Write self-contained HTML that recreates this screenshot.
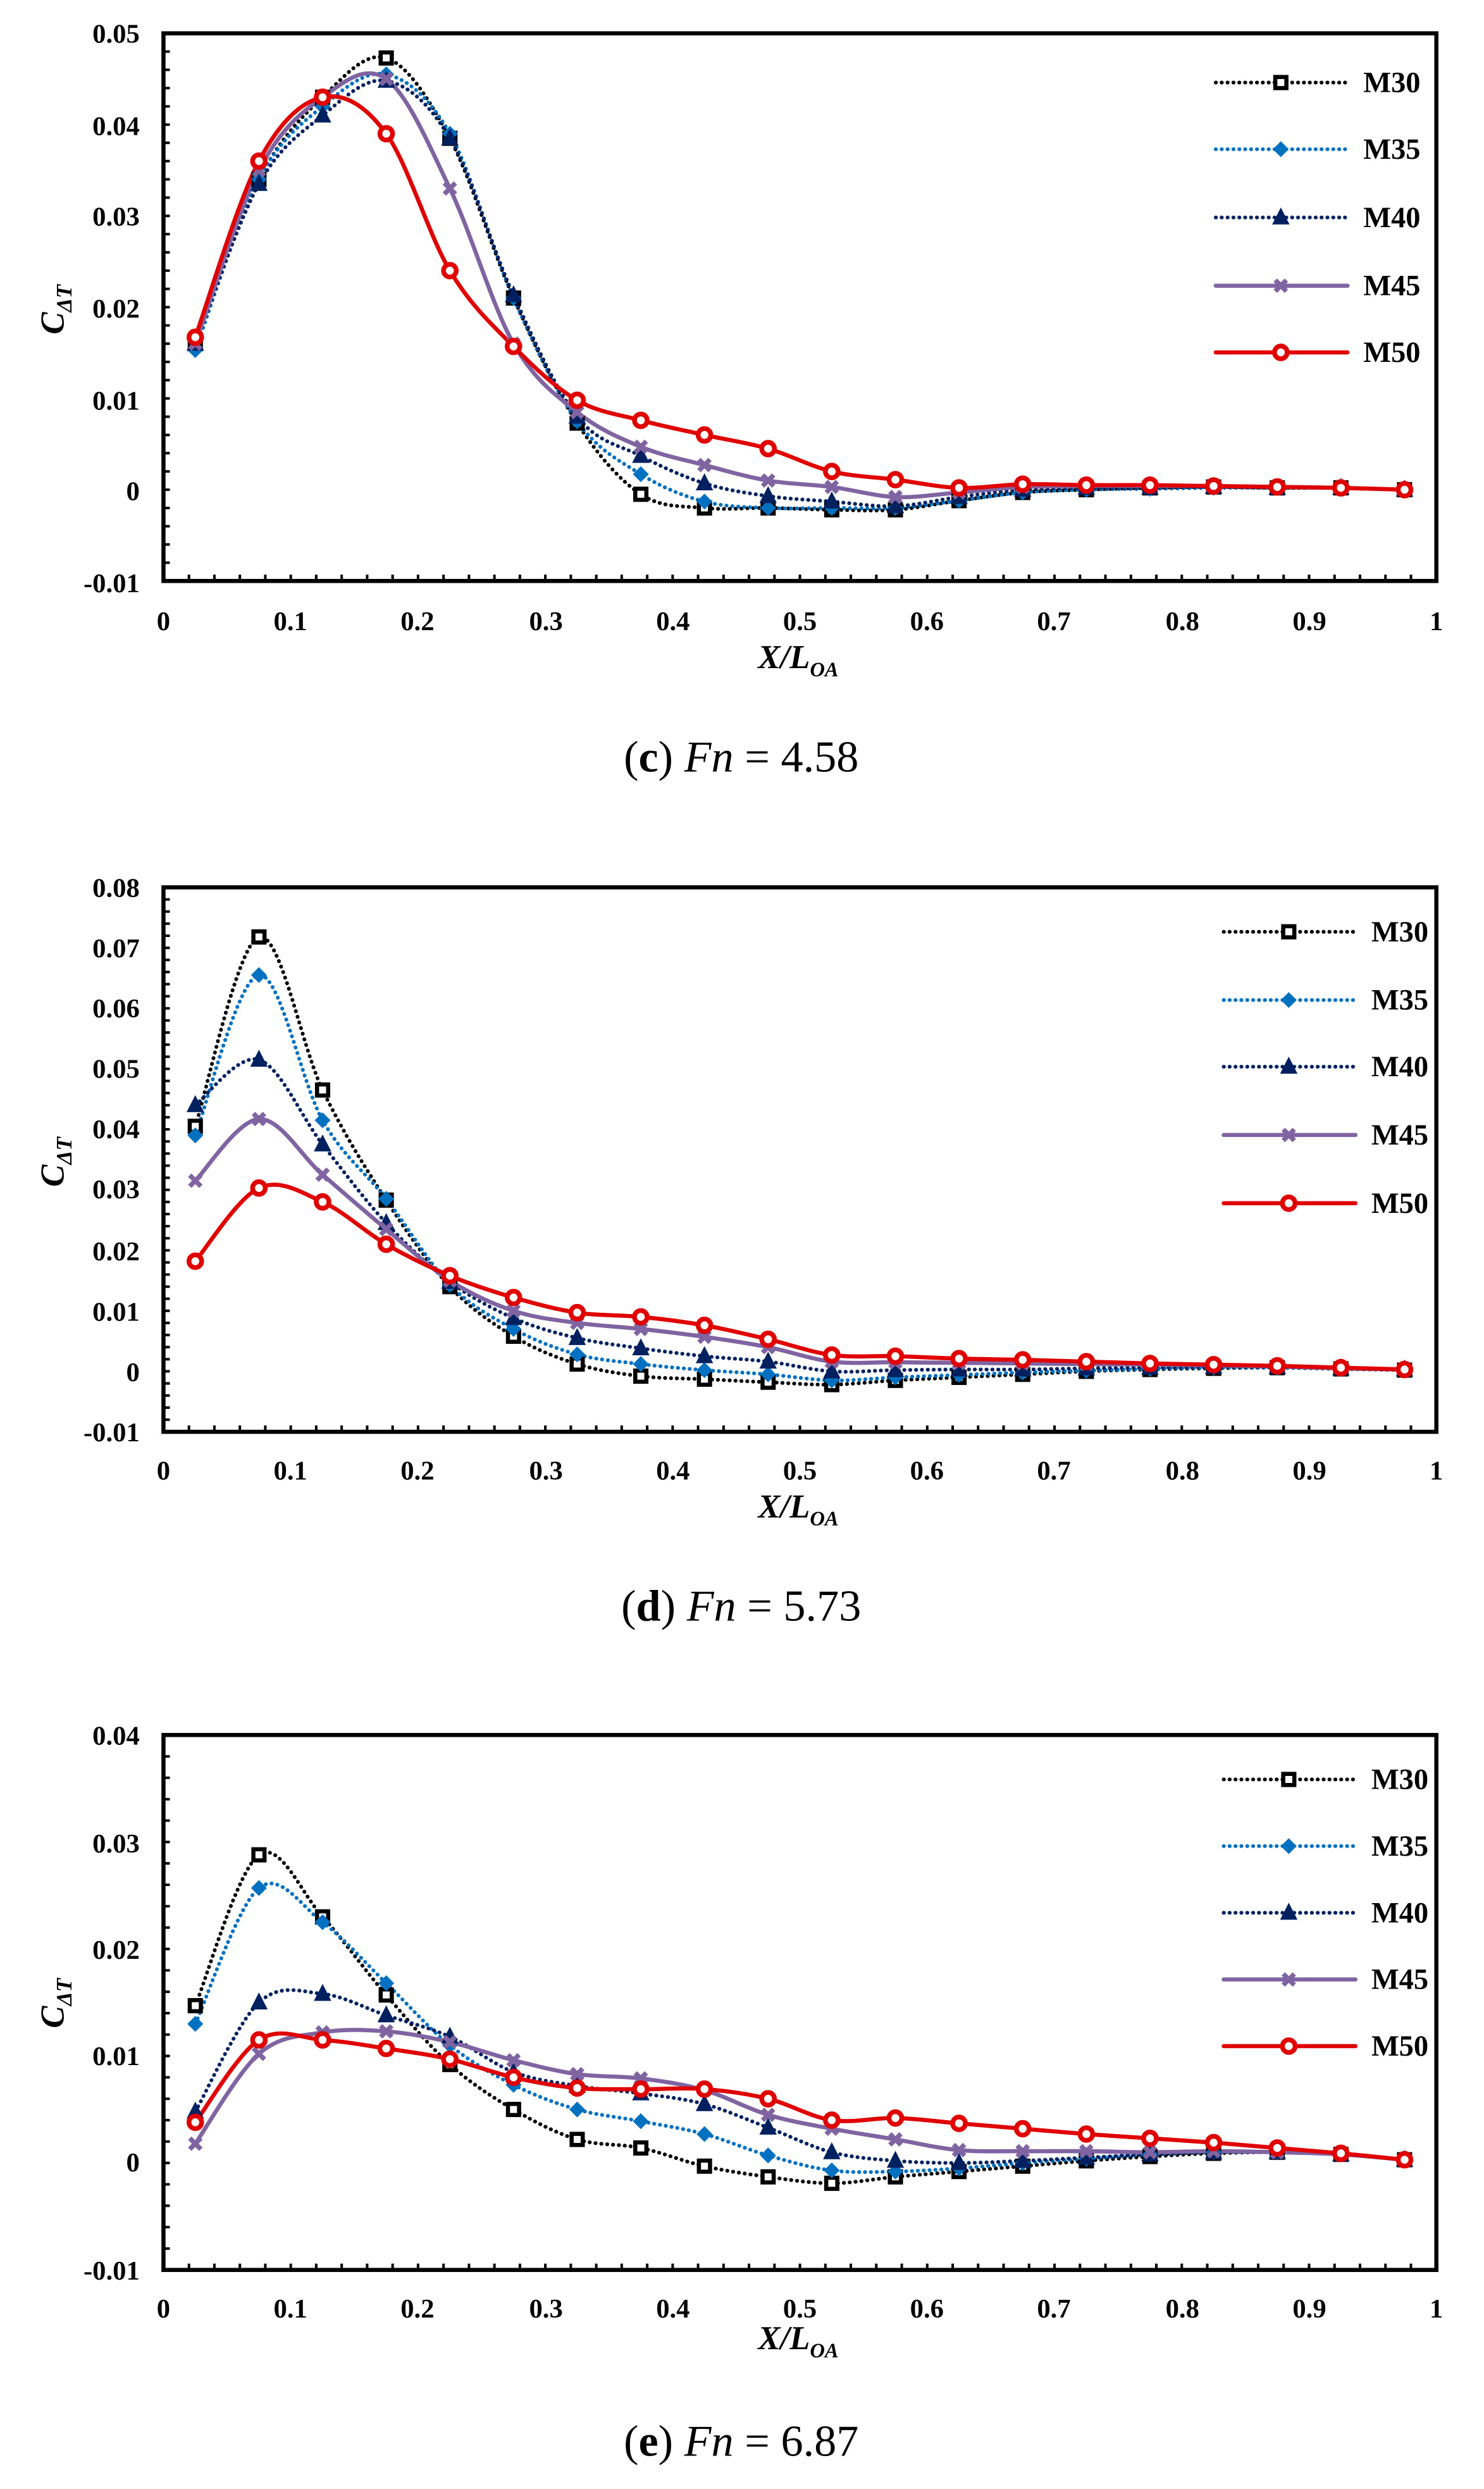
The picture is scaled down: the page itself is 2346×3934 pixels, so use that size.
<!DOCTYPE html>
<html><head><meta charset="utf-8"><style>
html,body{margin:0;padding:0;background:#fff;}
svg{display:block;}
.tk{font-family:"Liberation Serif","Times New Roman",serif;font-weight:bold;font-size:17px;fill:#000;}
.lg{font-family:"Liberation Serif","Times New Roman",serif;font-weight:bold;font-size:18.5px;fill:#000;}
.ax{font-family:"Liberation Serif","Times New Roman",serif;font-weight:bold;font-style:italic;font-size:21px;fill:#000;}
.cap{font-family:"Liberation Serif","Times New Roman",serif;font-size:28px;fill:#000;}
</style></head><body>
<svg id="s" width="2346" height="3934" viewBox="0 0 935 1568" preserveAspectRatio="none" xmlns="http://www.w3.org/2000/svg">
<rect width="935" height="1568" fill="#fff"/>
<g id="g1"></g><g id="g2"></g><g id="g3"></g>
<g class="tk" text-anchor="end">
<text x="88" y="27">0.05</text><text x="88" y="85">0.04</text><text x="88" y="142">0.03</text><text x="88" y="200">0.02</text><text x="88" y="258">0.01</text><text x="88" y="315">0</text><text x="88" y="373">-0.01</text>
</g>
<g class="tk" text-anchor="middle">
<text x="103" y="397">0</text><text x="183" y="397">0.1</text><text x="263" y="397">0.2</text><text x="344" y="397">0.3</text><text x="424" y="397">0.4</text><text x="504" y="397">0.5</text><text x="584" y="397">0.6</text><text x="664" y="397">0.7</text><text x="745" y="397">0.8</text><text x="825" y="397">0.9</text><text x="905" y="397">1</text>
</g>
<g class="lg"><text x="859" y="58">M30</text><text x="859" y="100">M35</text><text x="859" y="143">M40</text><text x="859" y="186">M45</text><text x="859" y="228">M50</text></g>
<text class="ax" transform="translate(40,195) rotate(-90)" text-anchor="middle">C<tspan font-size="14" dy="5">ΔT</tspan></text>
<text class="ax" x="503" y="421" text-anchor="middle">X/L<tspan font-size="13" dy="5">OA</tspan></text>
<text class="cap" x="467" y="486" text-anchor="middle">(<tspan font-weight="bold">c</tspan>) <tspan font-style="italic">Fn</tspan> = 4.58</text>
<g class="tk" text-anchor="end">
<text x="88" y="565">0.08</text><text x="88" y="603">0.07</text><text x="88" y="641">0.06</text><text x="88" y="679">0.05</text><text x="88" y="717">0.04</text><text x="88" y="755">0.03</text><text x="88" y="794">0.02</text><text x="88" y="832">0.01</text><text x="88" y="870">0</text><text x="88" y="908">-0.01</text>
</g>
<g class="tk" text-anchor="middle">
<text x="103" y="932">0</text><text x="183" y="932">0.1</text><text x="263" y="932">0.2</text><text x="344" y="932">0.3</text><text x="424" y="932">0.4</text><text x="504" y="932">0.5</text><text x="584" y="932">0.6</text><text x="664" y="932">0.7</text><text x="745" y="932">0.8</text><text x="825" y="932">0.9</text><text x="905" y="932">1</text>
</g>
<g class="lg"><text x="864" y="593">M30</text><text x="864" y="636">M35</text><text x="864" y="678">M40</text><text x="864" y="721">M45</text><text x="864" y="764">M50</text></g>
<text class="ax" transform="translate(40,732) rotate(-90)" text-anchor="middle">C<tspan font-size="14" dy="5">ΔT</tspan></text>
<text class="ax" x="503" y="956" text-anchor="middle">X/L<tspan font-size="13" dy="5">OA</tspan></text>
<text class="cap" x="467" y="1021" text-anchor="middle">(<tspan font-weight="bold">d</tspan>) <tspan font-style="italic">Fn</tspan> = 5.73</text>
<g class="tk" text-anchor="end">
<text x="88" y="1099">0.04</text><text x="88" y="1167">0.03</text><text x="88" y="1234">0.02</text><text x="88" y="1301">0.01</text><text x="88" y="1368">0</text><text x="88" y="1436">-0.01</text>
</g>
<g class="tk" text-anchor="middle">
<text x="103" y="1460">0</text><text x="183" y="1460">0.1</text><text x="263" y="1460">0.2</text><text x="344" y="1460">0.3</text><text x="424" y="1460">0.4</text><text x="504" y="1460">0.5</text><text x="584" y="1460">0.6</text><text x="664" y="1460">0.7</text><text x="745" y="1460">0.8</text><text x="825" y="1460">0.9</text><text x="905" y="1460">1</text>
</g>
<g class="lg"><text x="864" y="1127">M30</text><text x="864" y="1169">M35</text><text x="864" y="1211">M40</text><text x="864" y="1253">M45</text><text x="864" y="1295">M50</text></g>
<text class="ax" transform="translate(40,1262) rotate(-90)" text-anchor="middle">C<tspan font-size="14" dy="5">ΔT</tspan></text>
<text class="ax" x="503" y="1480" text-anchor="middle">X/L<tspan font-size="13" dy="5">OA</tspan></text>
<text class="cap" x="467" y="1547" text-anchor="middle">(<tspan font-weight="bold">e</tspan>) <tspan font-style="italic">Fn</tspan> = 6.87</text>
</svg>
<script>
var NS="http://www.w3.org/2000/svg";
function el(p,t,a){var e=document.createElementNS(NS,t);for(var k in a)e.setAttribute(k,a[k]);p.appendChild(e);return e;}
var styles=[
 {c:"#000000",dash:"0.1 3.6",w:2.4,m:"sq"},
 {c:"#0070c0",dash:"0.1 3.6",w:2.4,m:"di"},
 {c:"#002060",dash:"0.1 3.6",w:2.4,m:"tr"},
 {c:"#8064a2",dash:"",w:2.6,m:"x"},
 {c:"#e00000",dash:"",w:2.6,m:"ci"}];
function marker(g,t,x,y,c){
 if(t=="sq")el(g,"rect",{x:x-3.5,y:y-3.5,width:7,height:7,fill:"#fff",stroke:c,"stroke-width":2.6});
 else if(t=="di")el(g,"path",{d:"M"+x+","+(y-5)+"L"+(x+5)+","+y+"L"+x+","+(y+5)+"L"+(x-5)+","+y+"Z",fill:c});
 else if(t=="tr")el(g,"path",{d:"M"+x+","+(y-5)+"L"+(x+4.5)+","+(y+3.8)+"L"+(x-4.5)+","+(y+3.8)+"Z",fill:c,stroke:c,"stroke-width":1.2});
 else if(t=="x"){el(g,"path",{d:"M"+(x-3.5)+","+(y-3.5)+"L"+(x+3.5)+","+(y+3.5)+"M"+(x+3.5)+","+(y-3.5)+"L"+(x-3.5)+","+(y+3.5),stroke:c,"stroke-width":3});}
 else el(g,"circle",{cx:x,cy:y,r:4,fill:"#fff",stroke:c,"stroke-width":3});
}
function curve(pts){
 var d="M"+pts[0][0]+","+pts[0][1];
 for(var i=0;i<pts.length-1;i++){
  var p0=pts[i-1]||pts[i],p1=pts[i],p2=pts[i+1],p3=pts[i+2]||p2,t=0.16667;
  d+="C"+(p1[0]+(p2[0]-p0[0])*t)+","+(p1[1]+(p2[1]-p0[1])*t)+" "+(p2[0]-(p3[0]-p1[0])*t)+","+(p2[1]-(p3[1]-p1[1])*t)+" "+p2[0]+","+p2[1];
 }
 return d;
}
function chart(g,top,bot,ymax,ymin,data,legY){
 var L=103,R=905;
 var sx=function(v){return L+(R-L)*v;};
 var sy=function(v){return top+(ymax-v)/(ymax-ymin)*(bot-top);};
 var d="";
 for(var v=ymin;v<=ymax+1e-9;v+=0.002){var y=sy(v);d+="M"+L+","+y+"h4";}
 for(var v=0;v<=1.0001;v+=0.02){var x=sx(v);d+="M"+x+","+bot+"v-4";}
 el(g,"path",{d:d,stroke:"#000","stroke-width":1.6,fill:"none"});
 for(var s=0;s<5;s++){
  var st=styles[s],pts=[];
  for(var i=0;i<20;i++)pts.push([sx(0.025+0.05*i),sy(data[s][i])]);
  var a={d:curve(pts),fill:"none",stroke:st.c,"stroke-width":st.w,"stroke-linecap":"round"};
  if(st.dash)a["stroke-dasharray"]=st.dash;
  el(g,"path",a);
 }
 for(var s=0;s<5;s++){
  var st=styles[s];
  for(var i=0;i<20;i++)marker(g,st.m,sx(0.025+0.05*i),sy(data[s][i]),st.c);
  var ly=legY[s];
  var a={d:"M"+legY.x0+","+ly+"H"+(legY.x0+83),fill:"none",stroke:st.c,"stroke-width":st.w,"stroke-linecap":"round"};
  if(st.dash)a["stroke-dasharray"]=st.dash;
  el(g,"path",a);
  marker(g,st.m,legY.x0+41,ly,st.c);
 }
 el(g,"rect",{x:L,y:top,width:R-L,height:bot-top,fill:"none",stroke:"#000","stroke-width":2.6});
}
var c=[
[0.016,0.034,0.043,0.0473,0.0385,0.021,0.0073,-0.0005,-0.002,-0.002,-0.0022,-0.0022,-0.0012,-0.0003,0,0.0002,0.0003,0.0002,0.0002,0],
[0.0153,0.034,0.042,0.0455,0.039,0.021,0.0075,0.0017,-0.0013,-0.002,-0.002,-0.002,-0.0012,-0.0003,0,0.0001,0.0002,0.0002,0.0002,0],
[0.016,0.0335,0.041,0.0448,0.0385,0.0213,0.008,0.0037,0.0007,-0.0007,-0.0013,-0.0018,-0.0008,0,0.0002,0.0002,0.0003,0.0002,0.0002,0],
[0.016,0.035,0.043,0.045,0.033,0.016,0.0085,0.0047,0.0027,0.001,0.0003,-0.0008,-0.0003,0.0003,0.0004,0.0004,0.0004,0.0003,0.0002,0],
[0.0167,0.036,0.043,0.039,0.024,0.0157,0.0098,0.0076,0.006,0.0045,0.002,0.0011,0.0002,0.0006,0.0005,0.0005,0.0004,0.0003,0.0002,0]];
var dd=[
[0.0405,0.0718,0.0465,0.0283,0.014,0.0058,0.0012,-0.0008,-0.0013,-0.0018,-0.0022,-0.0015,-0.001,-0.0005,0,0.0003,0.0005,0.0006,0.0004,0.0002],
[0.039,0.0655,0.0415,0.0285,0.0143,0.007,0.0028,0.0012,0.0002,-0.0005,-0.0015,-0.001,-0.0006,-0.0002,0.0001,0.0004,0.0006,0.0006,0.0004,0.0002],
[0.044,0.0515,0.0375,0.0245,0.0148,0.0088,0.0055,0.0038,0.0025,0.0016,0,0.0002,0.0003,0.0003,0.0005,0.0006,0.0007,0.0007,0.0005,0.0003],
[0.0315,0.0417,0.0325,0.0235,0.015,0.01,0.008,0.007,0.0057,0.004,0.0016,0.0015,0.0014,0.0013,0.0012,0.0011,0.001,0.0008,0.0005,0.0003],
[0.0182,0.0303,0.028,0.021,0.0158,0.0122,0.0097,0.009,0.0076,0.0053,0.0027,0.0025,0.0021,0.0019,0.0016,0.0013,0.0011,0.0009,0.0006,0.0003]];
var e=[
[0.0147,0.0288,0.023,0.0157,0.0092,0.005,0.0022,0.0014,-0.0003,-0.0013,-0.0019,-0.0013,-0.0008,-0.0003,0.0002,0.0006,0.0009,0.001,0.0008,0.0003],
[0.013,0.0257,0.0225,0.0168,0.011,0.0073,0.005,0.0039,0.0027,0.0007,-0.0007,-0.0008,-0.0005,0,0.0004,0.0008,0.001,0.001,0.0008,0.0003],
[0.0048,0.015,0.0158,0.0138,0.0118,0.0085,0.0072,0.0065,0.0055,0.0033,0.001,0.0002,0,0.0002,0.0005,0.0008,0.001,0.001,0.0008,0.0003],
[0.0018,0.0102,0.0122,0.0123,0.0113,0.0096,0.0083,0.0079,0.0068,0.0045,0.0032,0.0022,0.0012,0.0011,0.0011,0.001,0.0011,0.001,0.0008,0.0003],
[0.0038,0.0115,0.0115,0.0107,0.0097,0.008,0.007,0.0069,0.0069,0.006,0.004,0.0042,0.0037,0.0032,0.0027,0.0023,0.0019,0.0014,0.0009,0.0003]];
var l1=[52,94,137,180,222];l1.x0=766;
var l2=[587,630,672,715,758];l2.x0=771;
var l3=[1121,1163,1205,1247,1289];l3.x0=771;
chart(document.getElementById("g1"),21,366,0.05,-0.01,c,l1);
chart(document.getElementById("g2"),559,902,0.08,-0.01,dd,l2);
chart(document.getElementById("g3"),1093,1430,0.04,-0.01,e,l3);
</script>
</body></html>
